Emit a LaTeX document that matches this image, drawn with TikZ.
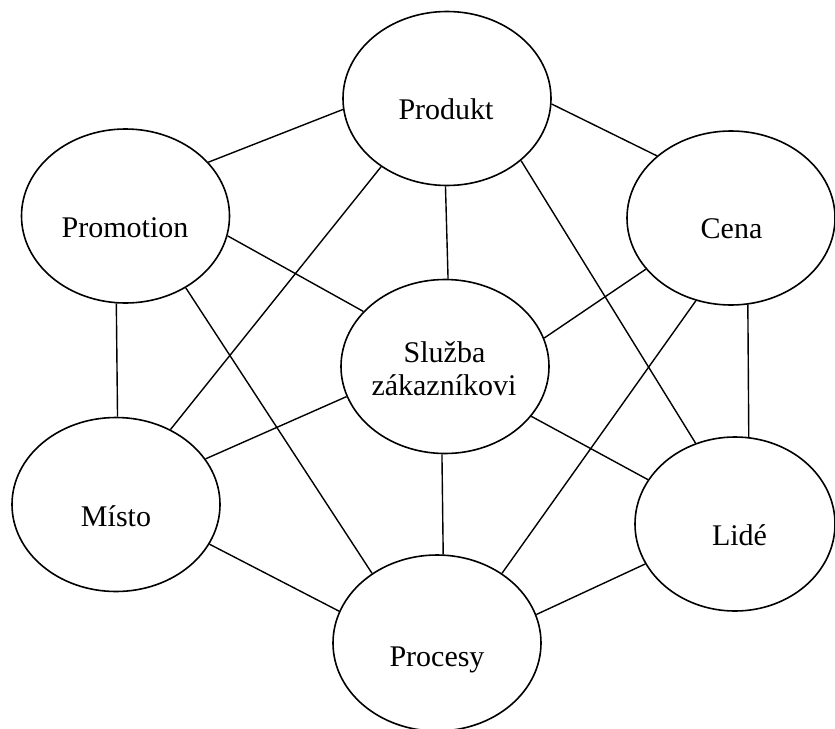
\documentclass[tikz,border=0pt]{standalone}
\usepackage{fontspec}
\setmainfont{Liberation Serif}
\usetikzlibrary{shapes.geometric}
\begin{document}
\begin{tikzpicture}[x=0.5pt,y=-0.5pt,
  ell/.style={draw,ellipse,line width=0.8pt,inner sep=0pt,minimum width=104pt,minimum height=87pt},
  lbl/.style={anchor=base,inner sep=0pt,font=\fontsize{15pt}{17.5pt}\selectfont,align=center},
  link/.style={line width=0.7pt}]
\useasboundingbox (0,0) rectangle (835,728);
\node[ell] (produkt) at (447,98.5) {};
\node[ell] (promotion) at (125.5,216) {};
\node[ell] (cena) at (731,218) {};
\node[ell] (sluzba) at (445,366.5) {};
\node[ell] (misto) at (116,504.5) {};
\node[ell,minimum width=100pt] (lide) at (735,524) {};
\node[ell,minimum height=88pt] (procesy) at (437,643) {};
\node[lbl] (tprodukt) at (446,119) {Produkt};
\node[lbl] (tpromotion) at (125,237) {Promotion};
\node[lbl] (tcena) at (731.5,238) {Cena};
\node[lbl] (tsluzba1) at (444.5,362) {Služba};
\node[lbl] (tsluzba2) at (444,395) {zákazníkovi};
\node[lbl] (tmisto) at (116,526) {Místo};
\node[lbl] (tlide) at (739.5,545) {Lidé};
\node[lbl] (tprocesy) at (437,666) {Procesy};
\draw[link] (produkt.186) -- (promotion.33.5);
\draw[link] (produkt.226) -- (misto.54.9);
\draw[link] (produkt.269) -- (sluzba.88.7);
\draw[link] (produkt.357.5) -- (cena.140.9);
\draw[link] (produkt.320.3) -- (lide.116.3);
\draw[link] (promotion.349.4) -- (sluzba.146.9);
\draw[link] (promotion.264.4) -- (misto.89.3);
\draw[link] (promotion.310.9) -- (procesy.133.7);
\draw[link] (cena.211.3) -- (sluzba.16.8);
\draw[link] (cena.247.6) -- (procesy.47.6);
\draw[link] (cena.281.8) -- (lide.81.1);
\draw[link] (sluzba.197.3) -- (misto.27.1);
\draw[link] (sluzba.330.9) -- (lide.153.2);
\draw[link] (sluzba.268) -- (procesy.86.7);
\draw[link] (misto.337.3) -- (procesy.162.6);
\draw[link] (lide.204.2) -- (procesy.16.6);
\end{tikzpicture}
\end{document}
